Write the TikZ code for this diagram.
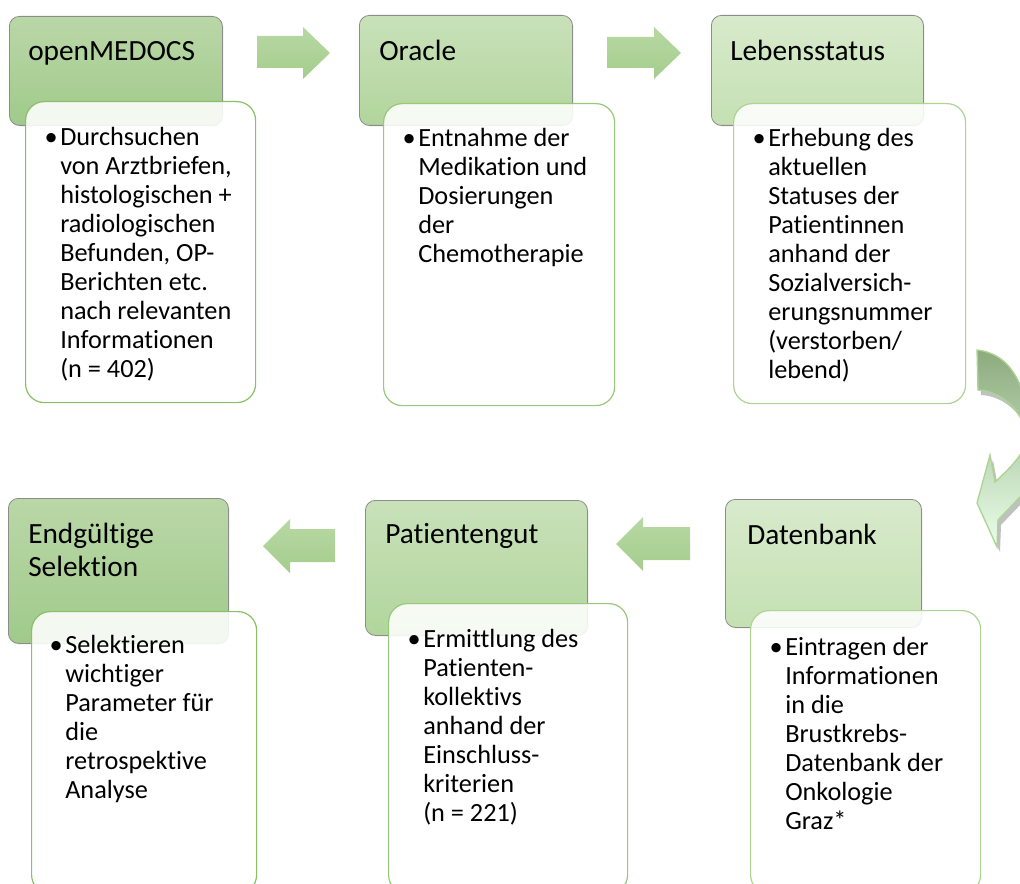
\documentclass[tikz,border=0pt]{standalone}
\usepackage{fontspec}
\setmainfont{Carlito}[Ligatures={NoCommon}]
\usetikzlibrary{shadows}
\definecolor{hdA}{RGB}{186,215,167}
\definecolor{hdAb}{RGB}{160,202,139}
\definecolor{hdB}{RGB}{201,225,186}
\definecolor{hdBb}{RGB}{177,213,156}
\definecolor{hdC}{RGB}{216,234,204}
\definecolor{hdCb}{RGB}{197,224,179}
\definecolor{rimA}{RGB}{137,192,102}
\definecolor{rimB}{RGB}{152,200,121}
\definecolor{rimC}{RGB}{172,212,147}
\definecolor{arrtop}{RGB}{184,216,163}
\definecolor{arrbot}{RGB}{164,205,141}
\newcommand{\lines}[1]{\begin{tabular}[t]{@{}l@{}}#1\end{tabular}}
\newcommand{\bendpath}{(977,350) .. controls (995,352) and (1012,362) .. (1022,390)
  .. controls (1040,430) and (1050,455) .. (1040,476) -- (998,520) -- (997,547)
  -- (977,503) -- (990,455) -- (995,482) .. controls (1010,468) and (1027,452) .. (1026,436)
  .. controls (1024,412) and (1002,391) .. (978,390) -- cycle}
\tikzset{
  hdr/.style 2 args={anchor=north west, inner sep=0pt, rounded corners=7.5pt,
    draw=black!45, line width=0.6pt, minimum width=#1*0.75pt, minimum height=#2*0.75pt,
    drop shadow={shadow xshift=0.8pt, shadow yshift=-0.8pt, opacity=0.25}},
  bodybox/.style 2 args={anchor=north west, inner sep=0pt, rounded corners=14pt,
    line width=0.9pt, fill=white, fill opacity=0.88,
    minimum width=#1*0.75pt, minimum height=#2*0.75pt},
  hdtxt/.style={anchor=base west, inner sep=0pt, font=\fontsize{22}{24.75}\selectfont},
  bodytxt/.style={anchor=base west, inner sep=0pt, font=\fontsize{19.7}{21.75}\selectfont},
  dot/.style={anchor=base east, inner sep=0pt, font=\fontsize{19.7}{21.75}\selectfont},
  blockarrow/.style={top color=arrtop, bottom color=arrbot, draw=none},
}
\begin{document}
\begin{tikzpicture}[x=0.75pt, y=-0.75pt]
\useasboundingbox (0,0) rectangle (1020,884);
\clip (0,0) rectangle (1020,884);
% title boxes
\node[hdr={213}{109}, top color=hdA, bottom color=hdAb] (openmedocs) at (9,16){};
\node[hdr={213}{110}, top color=hdB, bottom color=hdBb] (oracle) at (359,15){};
\node[hdr={212}{110}, top color=hdC, bottom color=hdCb] (lebensstatus) at (711,15){};
\node[hdr={196}{128}, top color=hdC, bottom color=hdCb] (datenbank) at (725,499){};
\node[hdr={222}{135}, top color=hdB, bottom color=hdBb] (patientengut) at (365,500){};
\node[hdr={220}{145}, top color=hdA, bottom color=hdAb] (selektion) at (8,498){};
% text boxes
\node[bodybox={230}{301}, draw=rimA] (openmedocsbody) at (25,101){};
\node[bodybox={231}{302}, draw=rimB] (oraclebody) at (383,103){};
\node[bodybox={232}{300}, draw=rimC] (lebensstatusbody) at (733,103){};
\node[bodybox={230}{283}, draw=rimC] (datenbankbody) at (750,610){};
\node[bodybox={239}{290}, draw=rimB] (patientengutbody) at (388,603){};
\node[bodybox={225}{282}, draw=rimA] (selektionbody) at (31,611){};
% titles
\node[hdtxt] (openmedocstxt) at (28,61){openMEDOCS};
\node[hdtxt] (oracletxt) at (379,61){Oracle};
\node[hdtxt] (lebensstatustxt) at (730,61){Lebensstatus};
\node[hdtxt] (datenbanktxt) at (747,544){Datenbank};
\node[hdtxt] (patientenguttxt) at (385,543){Patientengut};
\node[hdtxt] (selektiontxt) at (28,543){\lines{Endgültige\\Selektion}};
% bullet texts
\node[bodytxt] (openmedocsitem) at (60,146){\lines{Durchsuchen\\von Arztbriefen,\\histologischen +\\radiologischen\\Befunden, OP-\\Berichten etc.\\nach relevanten\\Informationen\\(n = 402)}};
\node[dot] at ([xshift=-1.5pt]openmedocsitem.base west){•};
\node[bodytxt] (oracleitem) at (418,147){\lines{Entnahme der\\Medikation und\\Dosierungen\\der\\Chemotherapie}};
\node[dot] at ([xshift=-1.5pt]oracleitem.base west){•};
\node[bodytxt] (lebensstatusitem) at (768,147){\lines{Erhebung des\\aktuellen\\Statuses der\\Patientinnen\\anhand der\\Sozialversich-\\erungsnummer\\(verstorben/\\lebend)}};
\node[dot] at ([xshift=-1.5pt]lebensstatusitem.base west){•};
\node[bodytxt] (datenbankitem) at (785,655){\lines{Eintragen der\\Informationen\\in die\\Brustkrebs-\\Datenbank der\\Onkologie\\Graz*}};
\node[dot] at ([xshift=-1.5pt]datenbankitem.base west){•};
\node[bodytxt] (patientengutitem) at (423,647){\lines{Ermittlung des\\Patienten-\\kollektivs\\anhand der\\Einschluss-\\kriterien\\(n = 221)}};
\node[dot] at ([xshift=-1.5pt]patientengutitem.base west){•};
\node[bodytxt] (selektionitem) at (65,653){\lines{Selektieren\\wichtiger\\Parameter für\\die\\retrospektive\\Analyse}};
\node[dot] at ([xshift=-1.5pt]selektionitem.base west){•};
% arrows between steps
\path[blockarrow] (257,36) -- (303,36) -- (303,27) -- (330,53) -- (303,79) -- (303,68) -- (257,68) -- cycle;
\path[blockarrow] (607,37) -- (654,37) -- (654,27) -- (681,53) -- (654,79) -- (654,68) -- (607,68) -- cycle;
\path[blockarrow] (690,527) -- (643,527) -- (643,517) -- (616,544) -- (643,571) -- (643,560) -- (690,560) -- cycle;
\path[blockarrow] (335,529) -- (290,529) -- (290,519) -- (263,546) -- (290,573) -- (290,562) -- (335,562) -- cycle;
% bend down to the second row
\fill[black!45, opacity=0.55, shift={(3,5)}] \bendpath;
\path[draw=rimC, line width=1pt, top color=black!10!hdAb!80!gray, middle color=hdC, bottom color=green!8!white] \bendpath;
\end{tikzpicture}
\end{document}
